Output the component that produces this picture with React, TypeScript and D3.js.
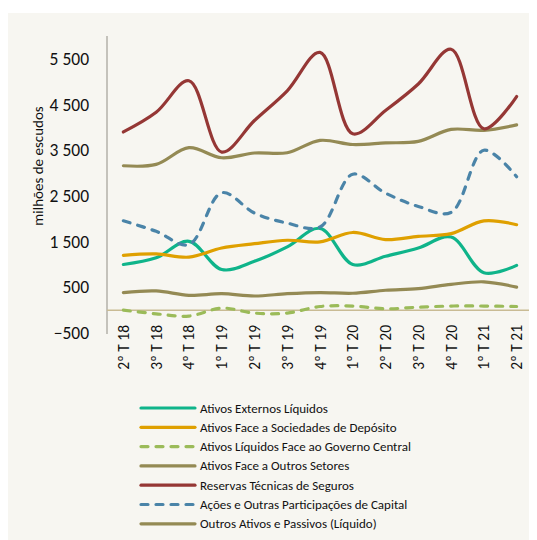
import React from "react";
import * as d3 from "d3";

const categories = ["2º T 18", "3º T 18", "4º T 18", "1º T 19", "2º T 19", "3º T 19", "4º T 19", "1º T 20", "2º T 20", "3º T 20", "4º T 20", "1º T 21", "2º T 21"];

const ativosExternos = [1000, 1145, 1507, 890, 1070, 1385, 1790, 1000, 1180, 1360, 1600, 820, 980];
const ativosSociedades = [1200, 1230, 1160, 1360, 1455, 1530, 1495, 1700, 1545, 1615, 1675, 1955, 1870];
const ativosGoverno = [0, -80, -130, 45, -65, -65, 80, 90, 30, 65, 90, 90, 80];
const ativosOutrosSetores = [3160, 3190, 3555, 3335, 3440, 3445, 3715, 3625, 3660, 3695, 3955, 3935, 4055];
const reservasTecnicas = [3900, 4330, 5020, 3460, 4150, 4800, 5640, 3860, 4370, 4950, 5710, 3970, 4675];
const acoes = [1955, 1725, 1435, 2570, 2125, 1905, 1820, 2975, 2560, 2270, 2140, 3500, 2920];
const outrosAtivos = [385, 420, 325, 360, 310, 360, 385, 370, 435, 470, 565, 620, 505];

const yTicks = [-500, 500, 1500, 2500, 3500, 4500, 5500];

const series = [
  { name: "Ativos Externos Líquidos", values: ativosExternos, color: "#0fb48a", dash: false },
  { name: "Ativos Face a Sociedades de Depósito", values: ativosSociedades, color: "#dfa000", dash: false },
  { name: "Ativos Líquidos Face ao Governo Central", values: ativosGoverno, color: "#9bbb59", dash: true },
  { name: "Ativos Face a Outros Setores", values: ativosOutrosSetores, color: "#948a54", dash: false },
  { name: "Reservas Técnicas de Seguros", values: reservasTecnicas, color: "#953735", dash: false },
  { name: "Ações e Outras Participações de Capital", values: acoes, color: "#4a84a8", dash: true },
  { name: "Outros Ativos e Passivos (Líquido)", values: outrosAtivos, color: "#948a54", dash: false },
];

const W = 529;
const H = 532;
const font = "Calibri, Carlito, 'Liberation Sans', 'Open Sans', sans-serif";

export default function App() {
  const x = d3.scaleBand<string>().domain(categories).range([99, 525]);
  const y = d3.scaleLinear().domain([-500, 6000]).range([325, 28]);
  const line = d3
    .line<number>()
    .x((_, i) => (x(categories[i]) as number) + x.bandwidth() / 2)
    .y((d) => y(d))
    .curve(d3.curveCatmullRom.alpha(0.5));

  return (
    <svg width={W} height={H} style={{ display: "block" }} fontFamily={font}>
      <rect x={0} y={5} width={W} height={H - 5} fill="#f7f6f1" />
      {/* axes */}
      <line x1={99} x2={99} y1={28} y2={326} stroke="#b3b0a8" strokeWidth={1.5} />
      <line x1={99} x2={525} y1={y(0)} y2={y(0)} stroke="#c9bb94" strokeWidth={1.5} />
      {yTicks.map((t) => (
        <text key={t} x={81} y={y(t)} dy="0.35em" textAnchor="end" fontSize={17.5} fill="#111">
          {d3.format(",")(t).replace(",", " ")}
        </text>
      ))}
      <text transform={`translate(35,158) rotate(-90)`} textAnchor="middle" fontSize={15} fill="#111">
        milhões de escudos
      </text>
      {categories.map((c) => (
        <text
          key={c}
          transform={`translate(${(x(c) as number) + x.bandwidth() / 2 + 5.5},317) rotate(-90)`}
          textAnchor="end"
          fontSize={15.5}
          fill="#111"
        >
          {c}
        </text>
      ))}
      {/* lines */}
      {series.map((s) => (
        <path
          key={s.name}
          d={line(s.values) || ""}
          fill="none"
          stroke={s.color}
          strokeWidth={3.2}
          strokeLinecap="round"
          strokeDasharray={s.dash ? "7,8" : undefined}
        />
      ))}
      {/* legend */}
      {series.map((s, i) => {
        const ly = 400 + i * 19.3;
        return (
          <g key={s.name}>
            <line
              x1={133}
              x2={187}
              y1={ly}
              y2={ly}
              stroke={s.color}
              strokeWidth={3.2}
              strokeLinecap="round"
              strokeDasharray={s.dash ? "7,8" : undefined}
            />
            <text x={192} y={ly} dy="0.35em" fontSize={13} fill="#111">
              {s.name}
            </text>
          </g>
        );
      })}
    </svg>
  );
}
